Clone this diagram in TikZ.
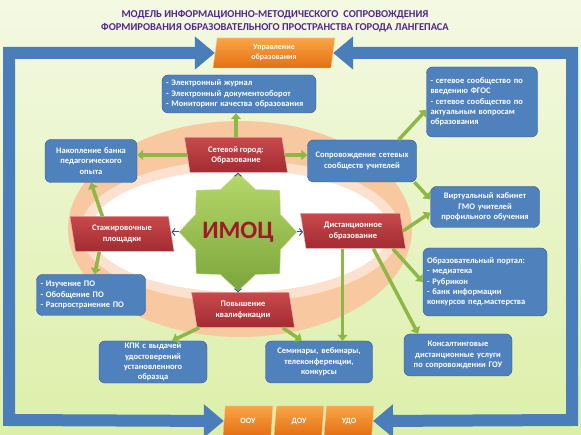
\documentclass[tikz,border=0pt]{standalone}
\usepackage{fontspec}
\setmainfont{Carlito}
\usepackage{tikz}
\usetikzlibrary{arrows.meta}
\usetikzlibrary{shapes.geometric}

\definecolor{fonverh}{HTML}{F4F9E3}
\definecolor{fonniz}{HTML}{DCEFA9}
\definecolor{ramkasin}{HTML}{4A7EBB}
\definecolor{bloksin}{HTML}{4F81BD}
\definecolor{blokrand}{HTML}{34598A}
\definecolor{krasverh}{HTML}{C8494C}
\definecolor{krasniz}{HTML}{A22B31}
\definecolor{oranverh}{HTML}{FAA646}
\definecolor{oranniz}{HTML}{E46F12}
\definecolor{strelzel}{HTML}{8DB845}
\definecolor{zvezdaverh}{HTML}{B7D86A}
\definecolor{zvezdaniz}{HTML}{7AA53A}
\definecolor{persik}{HTML}{F8C8A1}
\definecolor{persiksvet}{HTML}{FCE2CE}
\definecolor{zagolovok}{HTML}{50288C}
\definecolor{imoccvet}{HTML}{A01A2A}
\definecolor{chevsin}{HTML}{2F5597}

\tikzset{
  blok/.style={draw=blokrand, fill=bloksin, rounded corners=6pt, text=white,
    font=\bfseries\fontsize{8.5}{10.3}\selectfont, inner xsep=4pt, inner ysep=2pt},
  kras/.style={trapezium, trapezium left angle=103, trapezium right angle=77,
    trapezium stretches body, top color=krasverh, bottom color=krasniz,
    draw=krasverh!40!white, text=white, align=center,
    font=\bfseries\fontsize{8.5}{10.3}\selectfont, minimum height=35pt},
  oran/.style={trapezium, trapezium left angle=80, trapezium right angle=100,
    trapezium stretches body, top color=oranverh, bottom color=oranniz,
    draw=oranverh!50!white, text=white, align=center,
    font=\bfseries\fontsize{8}{10}\selectfont},
  strel/.style={draw=strelzel, line width=3.5pt, -{Triangle[length=6pt,width=10pt]}},
  ramka/.style={draw=ramkasin, line width=12pt,
    {Triangle[length=20pt,width=32pt]}-{Triangle[length=20pt,width=32pt]}},
  chev/.style={draw=chevsin, line width=1pt, -{Straight Barb[length=3pt,width=7pt]}}
}

\begin{document}
\begin{tikzpicture}[x=1pt,y=-1pt]
\shade[top color=fonverh, bottom color=fonniz] (0,0) rectangle (581,435);
\clip (0,0) rectangle (581,435);
\useasboundingbox (0,0) rectangle (581,435);

\node[font=\bfseries\fontsize{10.5}{13}\selectfont, text=zagolovok, align=center] (zag) at (275,21)
  {МОДЕЛЬ ИНФОРМАЦИОННО-МЕТОДИЧЕСКОГО~~СОПРОВОЖДЕНИЯ\\ФОРМИРОВАНИЯ ОБРАЗОВАТЕЛЬНОГО ПРОСТРАНСТВА ГОРОДА ЛАНГЕПАСА};

\fill[persik] (240,229) ellipse (172 and 108);
\fill[persiksvet] (240,231) ellipse (160 and 71);
\fill[white] (240,231) ellipse (149 and 61);

\node[oran, minimum width=122pt, minimum height=30pt] (upr) at (274,53) {Управление\\образования};
\node[oran, minimum width=50pt, minimum height=30pt] (oou) at (248,421) {ООУ};
\node[oran, minimum width=50pt, minimum height=30pt] (dou) at (299,421) {ДОУ};
\node[oran, minimum width=50pt, minimum height=30pt] (udo) at (349,421) {УДО};

\coordinate (lug) at (9,420);
\coordinate (pug) at (572,420);
\draw[ramka] (upr.west) -| (lug) -- (oou.west);
\draw[ramka] (upr.east) -| (pug) -- (udo.east);

\node[star, star points=8, star point ratio=1.28, minimum size=118pt, inner sep=0pt,
  top color=zvezdaverh, bottom color=zvezdaniz, draw=zvezdaverh!60!white] (imoc) at (238,232) {};
\node[font=\bfseries\fontsize{25}{25}\selectfont, text=imoccvet] (imoctxt) at (imoc.center) {ИМОЦ};

\node[kras, minimum width=103pt] (set) at (236,155) {Сетевой город:\\Образование};
\node[kras, minimum width=104pt] (stazh) at (122,234) {Стажировочные\\площадки};
\node[kras, minimum width=105pt] (dist) at (353,231) {Дистанционное\\образование};
\node[kras, minimum width=103pt] (pov) at (243,310) {Повышение\\квалификации};

\node[blok, text width=146pt, minimum height=38pt, align=left] (ejour) at (239,94)
  {- Электронный журнал\\- Электронный документооборот\\- Мониторинг качества образования};
\node[blok, text width=103pt, minimum height=70pt, align=left] (setsoob) at (482,102)
  {- сетевое сообщество по\\введению ФГОС\\- сетевое сообщество по\\актуальным вопросам\\образования};
\node[blok, text width=84pt, minimum height=43pt, align=center] (nakop) at (91,161)
  {Накопление банка\\педагогического\\опыта};
\node[blok, text width=101pt, minimum height=42pt, align=center] (soprov) at (362,161)
  {Сопровождение сетевых\\сообществ учителей};
\node[blok, text width=101pt, minimum height=41pt, align=center] (virt) at (485,207)
  {Виртуальный кабинет\\ГМО учителей\\профильного обучения};
\node[blok, text width=101pt, minimum height=41pt, align=left] (izuch) at (91,295)
  {- Изучение ПО\\- Обобщение ПО\\- Распространение ПО};
\node[blok, text width=116pt, minimum height=68pt, align=left] (portal) at (485,282)
  {Образовательный портал:\\- медиатека\\- Рубрикон\\- банк информации\\конкурсов пед.мастерства};
\node[blok, text width=100pt, minimum height=42pt, align=center] (kpk) at (153,362)
  {КПК с выдачей\\удостоверений\\установленного\\образца};
\node[blok, text width=99pt, minimum height=42pt, align=center] (sem) at (319,362)
  {Семинары, вебинары,\\телеконференции,\\конкурсы};
\node[blok, text width=100pt, minimum height=42pt, align=center] (kons) at (458,355)
  {Консалтинговые\\дистанционные услуги\\по сопровождении ГОУ};

\draw[strel] (set.north) -- (set.north |- ejour.south);
\draw[strel] (set.west) -- (set.west -| nakop.east);
\draw[strel] (set.east) -- (set.east -| soprov.west);
\draw[strel] (soprov.30) -- (setsoob.188);
\draw[strel] (soprov.-22) -- (virt.172);
\draw[strel] (stazh.138) -- (nakop.south);
\draw[strel] (stazh.218) -- (izuch.80);
\draw[strel] (dist.east) -- (virt.186);
\draw[strel] (dist.-24) -- (portal.west);
\draw[strel] (dist.-41) -- (kons.152);
\draw[strel] (dist.south -| sem.42) -- (sem.42);
\draw[strel] (pov.-24) -- (sem.129);
\draw[strel] (pov.202) -- (kpk.48);

\draw[chev] (imoc.north) -- (set.south -| imoc.north);
\draw[chev] (imoc.west) -- (imoc.west -| stazh.east);
\draw[chev] (imoc.east) -- (imoc.east -| dist.west);
\draw[chev] (imoc.south) -- (imoc.south |- pov.north);
\end{tikzpicture}
\end{document}
